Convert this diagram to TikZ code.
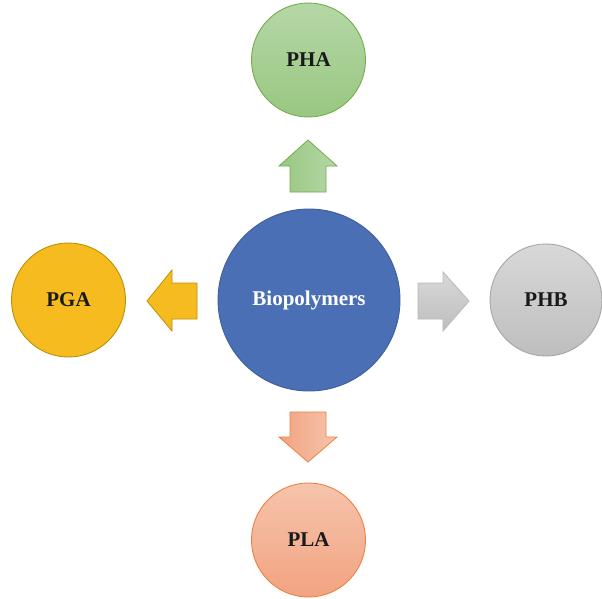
\documentclass[tikz,border=0pt]{standalone}
\usepackage{fontspec}
\setmainfont{Liberation Serif}
\begin{document}
\begin{tikzpicture}[x=1pt,y=-1pt,
  bubble/.style={circle, minimum size=#1, inner sep=0pt, line width=0.9pt, font=\fontsize{21}{24}\selectfont\bfseries, text=black!90},
  blockarrow/.style={line width=0.8pt, line join=miter}]
\definecolor{bluefill}{HTML}{4A6FB5}
\definecolor{blueedge}{HTML}{3E5F9C}
\definecolor{gtop}{HTML}{B5D7A6}
\definecolor{gbot}{HTML}{99C782}
\definecolor{gedge}{HTML}{72AE4A}
\definecolor{yfill}{HTML}{F6BC1F}
\definecolor{yedge}{HTML}{BC9007}
\definecolor{htop}{HTML}{D8D8D8}
\definecolor{hbot}{HTML}{BEBEBE}
\definecolor{hedge}{HTML}{A6A6A6}
\definecolor{otop}{HTML}{F6C4AC}
\definecolor{obot}{HTML}{F2A381}
\definecolor{oedge}{HTML}{EE8140}
\useasboundingbox (0,0) rectangle (602,598);
\fill[white] (0,0) rectangle (602,598);
% centre
\node[bubble=182pt, fill=bluefill, draw=blueedge, text=white] (bio) at (309,300) {Biopolymers};
% satellites
\node[bubble=114pt, top color=gtop, bottom color=gbot, draw=gedge] (pha) at (308.5,60) {PHA};
\node[bubble=114pt, fill=yfill, draw=yedge] (pga) at (68.5,300) {PGA};
\node[bubble=112pt, top color=htop, bottom color=hbot, draw=hedge] (phb) at (546,300) {PHB};
\node[bubble=114pt, top color=otop, bottom color=obot, draw=oedge] (pla) at (308.5,540) {PLA};
% block arrows
\draw[blockarrow, left color=gbot, right color=gtop, draw=gedge]
  (308,140) -- (337,166) -- (326,166) -- (326,192) -- (290,192) -- (290,166) -- (279,166) -- cycle;
\draw[blockarrow, fill=yfill, draw=yedge]
  (147,301) -- (172,270) -- (172,283) -- (197,283) -- (197,319) -- (172,319) -- (172,331) -- cycle;
\draw[blockarrow, top color=htop, bottom color=hbot, draw=hedge!80]
  (469,301) -- (443,272) -- (443,283) -- (418,283) -- (418,319) -- (443,319) -- (443,331) -- cycle;
\draw[blockarrow, left color=obot, right color=otop, draw=oedge]
  (308,462) -- (337,437) -- (326,437) -- (326,412) -- (290,412) -- (290,437) -- (279,437) -- cycle;
\end{tikzpicture}
\end{document}
